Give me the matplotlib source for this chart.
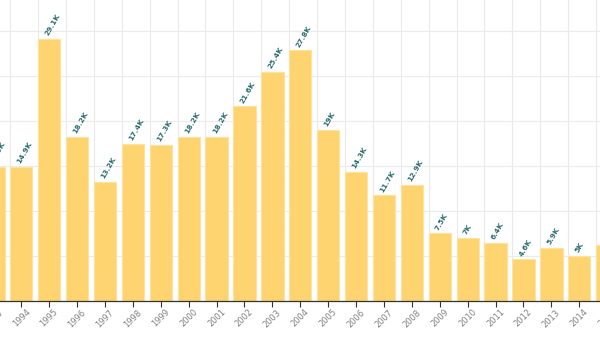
import matplotlib
matplotlib.use("Agg")
import matplotlib.pyplot as plt
from matplotlib.ticker import FixedLocator, NullFormatter

years = [str(y) for y in range(1993, 2016)]
values = [14.9, 14.9, 29.1, 18.2, 13.2, 17.4, 17.3, 18.2, 18.2, 21.6, 25.4, 27.8,
          19.0, 14.3, 11.7, 12.9, 7.5, 7.0, 6.4, 4.6, 5.9, 5.0, 6.2]
labels = ["14.9K", "14.9K", "29.1K", "18.2K", "13.2K", "17.4K", "17.3K", "18.2K",
          "18.2K", "21.6K", "25.4K", "27.8K", "19K", "14.3K", "11.7K", "12.9K",
          "7.5K", "7K", "6.4K", "4.6K", "5.9K", "5K", "6.2K"]

W, H = 600, 338
fig = plt.figure(figsize=(W / 100, H / 100), dpi=100)
base_px = 300.7
pad_px = 30  # axes extends past the figure edges (chart is cropped)
ax = fig.add_axes([-pad_px / W, (H - base_px) / H, (W + 2 * pad_px) / W, base_px / H])

pos = list(range(len(years)))
ax.bar(pos, values, width=0.8, color="#FDD46F", edgecolor="#FEE3A0", linewidth=0.8, zorder=2)

for x, v, t in zip(pos, values, labels):
    ax.annotate(t, (x, v), xytext=(-1.8, 2.6), textcoords="offset points",
                rotation=60, rotation_mode="anchor", ha="left", va="center",
                fontsize=5.3, fontweight="bold", color="#2B6D70", zorder=3,
                annotation_clip=False)

ax.set_xticks(pos)
ax.set_xticklabels(years, rotation=45, fontsize=6, color="#808080")
ax.xaxis.set_minor_locator(FixedLocator([p - 0.4 for p in pos]))
ax.xaxis.set_minor_formatter(NullFormatter())
ax.tick_params(axis="x", which="minor", length=0)
ax.tick_params(axis="x", which="major", length=4, width=0.8, color="#333333", pad=1)
ax.set_yticks([0, 5, 10, 15, 20, 25, 30])
ax.tick_params(axis="y", length=0, labelleft=False)
ax.grid(axis="x", which="minor", color="#E9E9E9", linewidth=0.8, zorder=0)
ax.grid(axis="y", which="major", color="#EBEBEB", linewidth=0.8, zorder=0)
ax.set_axisbelow(True)
for s in ["top", "right", "left"]:
    ax.spines[s].set_visible(False)
ax.spines["bottom"].set_color("#333333")
ax.spines["bottom"].set_linewidth(0.9)

# view limits set last (set_xticks would otherwise expand them)
px_per_unit = 27.9
xmin = 1 - 21.3 / px_per_unit
ax.set_xlim(xmin - pad_px / px_per_unit, xmin + (W + pad_px) / px_per_unit)
ax.set_ylim(0, base_px / 9.0)

fig.savefig("out.png", dpi=100)
